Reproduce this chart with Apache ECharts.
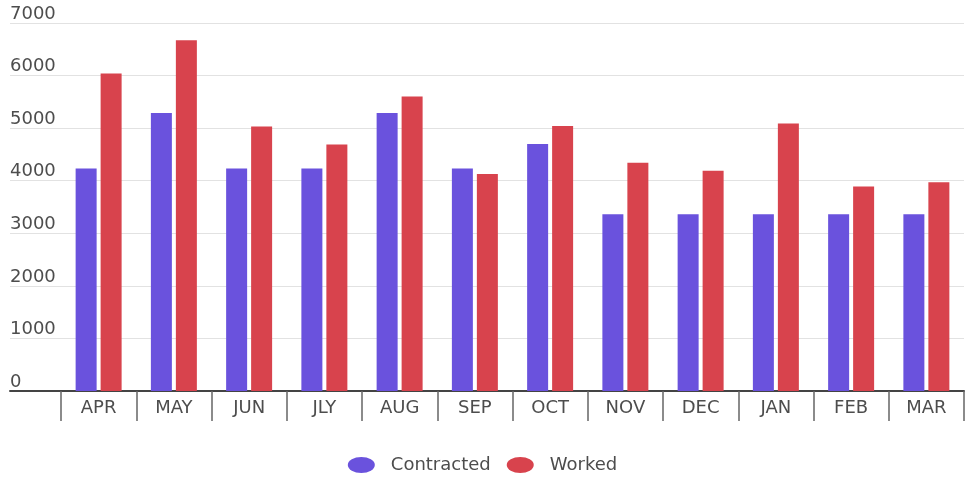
<!DOCTYPE html>
<html>
<head>
<meta charset="utf-8">
<script src="https://cdn.jsdelivr.net/npm/echarts@6/dist/echarts.min.js"></script>
<style>html,body{margin:0;padding:0;background:#fff;}#c{width:965px;height:477px;}</style>
</head>
<body>
<div id="c"></div>
<script>
var categories = ['APR','MAY','JUN','JLY','AUG','SEP','OCT','NOV','DEC','JAN','FEB','MAR'];
var contracted = [4230, 5290, 4230, 4230, 5290, 4230, 4700, 3360, 3360, 3360, 3360, 3360];
var worked = [6040, 6670, 5030, 4690, 5600, 4130, 5040, 4340, 4190, 5090, 3890, 3970];
var seriesNames = ['Contracted', 'Worked'];
var yMin = 0, yMax = 7000, yStep = 1000;

var FONT = '"DejaVu Sans", sans-serif';
var TXT = '#4d4d4d';
var chart = echarts.init(document.getElementById('c'), null, {renderer: 'canvas'});
var ellipse = 'path://M0,8 A13.5,8 0 1,1 27,8 A13.5,8 0 1,1 0,8 Z';
chart.setOption({
  animation: false,
  backgroundColor: '#ffffff',
  color: ['#6a52dd', '#d8434d'],
  legend: {
    left: 'center',
    top: 451,
    itemWidth: 27,
    itemHeight: 16,
    itemGap: 16,
    icon: ellipse,
    textStyle: {fontFamily: FONT, fontSize: 18, color: TXT, padding: [0, 0, 0, 11]},
    data: seriesNames
  },
  grid: [
    {left: 10, right: 1, top: 23, bottom: 86},
    {left: 61, right: 1, top: 23, bottom: 86}
  ],
  xAxis: [
    {gridIndex: 0, type: 'category', data: categories, axisLabel: {show: false},
     axisTick: {show: false}, axisLine: {show: true, lineStyle: {color: '#444', width: 2}}},
    {gridIndex: 1, type: 'category', data: categories,
     axisLine: {show: false},
     axisTick: {show: true, length: 30, lineStyle: {color: '#666', width: 1.5}},
     axisLabel: {margin: 8, fontFamily: FONT, fontSize: 18, color: TXT}}
  ],
  yAxis: [
    {gridIndex: 0, type: 'value', min: yMin, max: yMax, interval: yStep,
     axisLine: {show: false}, axisTick: {show: false},
     splitLine: {lineStyle: {color: '#e2e2e2', width: 1}},
     axisLabel: {inside: true, margin: 0, verticalAlign: 'bottom', padding: [0, 0, 0, 0],
                 formatter: function (v) { return String(v); },
                 fontFamily: FONT, fontSize: 18, color: TXT}},
    {gridIndex: 1, type: 'value', min: yMin, max: yMax, interval: yStep, show: false,
     splitLine: {show: false}}
  ],
  series: [
    {name: seriesNames[0], type: 'bar', xAxisIndex: 1, yAxisIndex: 1, data: contracted,
     barWidth: 21, barGap: '19%'},
    {name: seriesNames[1], type: 'bar', xAxisIndex: 1, yAxisIndex: 1, data: worked,
     barWidth: 21, barGap: '19%'}
  ]
});
</script>
</body>
</html>
